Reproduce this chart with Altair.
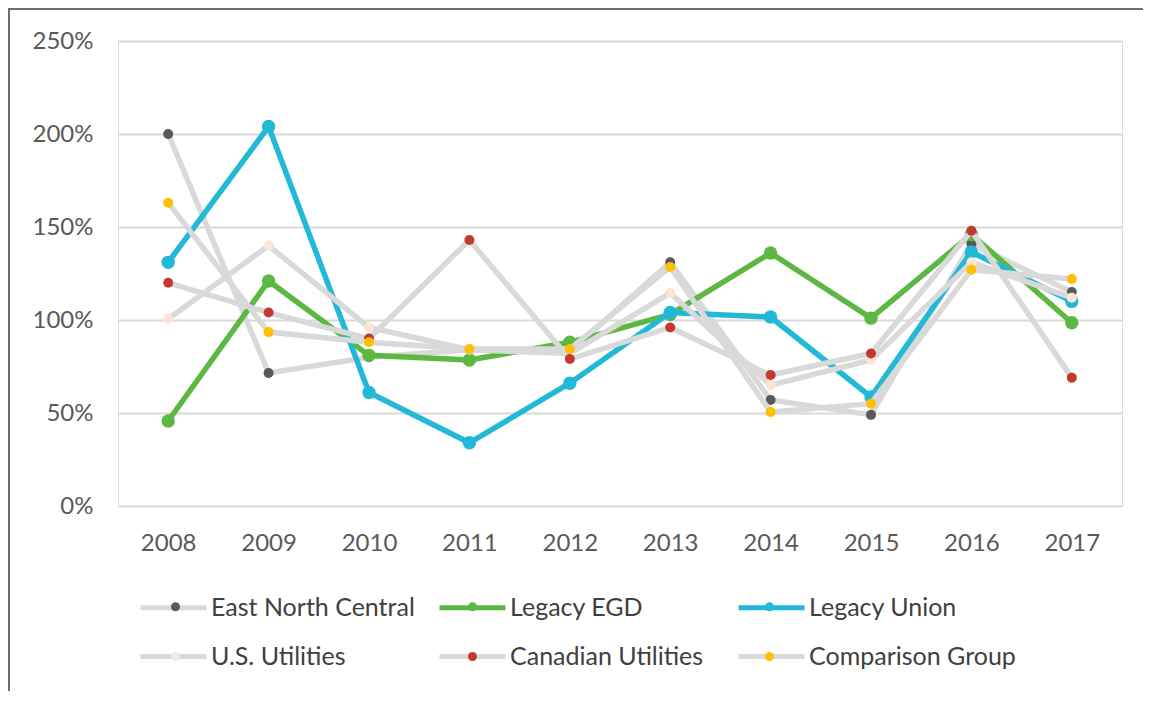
import altair as alt
import pandas as pd

years = ["2008", "2009", "2010", "2011", "2012", "2013", "2014", "2015", "2016", "2017"]
series = ["East North Central", "Legacy EGD", "Legacy Union",
          "U.S. Utilities", "Canadian Utilities", "Comparison Group"]

east_north_central = [2.00, 0.715, 0.80, 0.84, 0.83, 1.31, 0.57, 0.49, 1.41, 1.15]
legacy_egd = [0.457, 1.21, 0.81, 0.785, 0.88, 1.03, 1.36, 1.01, 1.46, 0.985]
legacy_union = [1.31, 2.04, 0.61, 0.34, 0.66, 1.04, 1.016, 0.586, 1.366, 1.10]
us_utilities = [1.005, 1.40, 0.96, 0.84, 0.82, 1.145, 0.65, 0.785, 1.31, 1.12]
canadian_utilities = [1.20, 1.04, 0.90, 1.43, 0.79, 0.96, 0.704, 0.82, 1.48, 0.69]
comparison_group = [1.63, 0.935, 0.88, 0.844, 0.844, 1.285, 0.505, 0.55, 1.27, 1.22]

values = [east_north_central, legacy_egd, legacy_union,
          us_utilities, canadian_utilities, comparison_group]

line_colors = ["#D9D9D9", "#5DB843", "#22B8D8", "#D9D9D9", "#D9D9D9", "#D9D9D9"]
marker_colors = ["#595959", "#5DB843", "#22B8D8", "#FCE4D6", "#C3392F", "#FFC000"]
marker_sizes = [100, 180, 180, 100, 100, 100]

# marker keys differ from the line keys so the two legends are not merged
marker_keys = [s + " " for s in series]

rows = []
for name, key, vals in zip(series, marker_keys, values):
    for yr, v in zip(years, vals):
        rows.append({"year": yr, "series": name, "marker": key, "value": v})
df = pd.DataFrame(rows)

FONT = "Lato"
LFS = 25

x_enc = alt.X("year:O", scale=alt.Scale(type="point", padding=0.5, domain=years),
              axis=alt.Axis(title=None, labelAngle=0, ticks=False, domain=False, grid=False,
                            labelFontSize=24, labelColor="#595959", labelFont=FONT,
                            labelPadding=25))
y_enc = alt.Y("value:Q", scale=alt.Scale(domain=[0, 2.5], nice=False),
              axis=alt.Axis(title=None, format=".0%", values=[0, 0.5, 1, 1.5, 2, 2.5],
                            ticks=False, domain=False, grid=True, gridColor="#D9D9D9",
                            gridWidth=2, labelFontSize=24, labelColor="#595959",
                            labelFont=FONT, labelPadding=25))

color_enc = alt.Color("series:N", scale=alt.Scale(domain=series, range=line_colors),
                      legend=alt.Legend(title=None, orient="none", legendX=20, legendY=531,
                                        direction="horizontal", columns=3, gridAlign="all",
                                        symbolType="stroke", symbolSize=4356,
                                        symbolStrokeWidth=5, labelOffset=2,
                                        labelFontSize=LFS, labelFont=FONT,
                                        labelColor="#404040", columnPadding=11,
                                        rowPadding=-12, labelLimit=400))
# marker overlay legend: symbols only, no label text
fill_enc = alt.Fill("marker:N", scale=alt.Scale(domain=marker_keys, range=marker_colors),
                    legend=alt.Legend(title=None, orient="none", legendX=20, legendY=553,
                                      direction="horizontal", columns=3, gridAlign="all",
                                      symbolType="circle", symbolSize=80,
                                      symbolStrokeWidth=0, symbolOffset=25,
                                      labelOffset=27, labelFontSize=LFS, labelFont=FONT,
                                      labelExpr="''", columnPadding=220,
                                      rowPadding=24, labelLimit=400))

layers = []
base = alt.Chart(df)
for i, name in enumerate(series):
    sub = base.transform_filter(alt.datum.series == name)
    layers.append(sub.mark_line(strokeWidth=5.5).encode(x=x_enc, y=y_enc, color=color_enc))
    layers.append(sub.mark_point(filled=True, size=marker_sizes[i], opacity=1,
                                 strokeWidth=0, shape="circle")
                  .encode(x=x_enc, y=y_enc, fill=fill_enc))

frame_top = alt.Chart(df).mark_rule(color="#6E6E6E", strokeWidth=2).encode(
    x=alt.value(-110), x2=alt.value(1030), y=alt.value(-32))
frame_left = alt.Chart(df).mark_rule(color="#6E6E6E", strokeWidth=2).encode(
    x=alt.value(-109), y=alt.value(-33), y2=alt.value(655))

chart = alt.layer(*layers, frame_top, frame_left).properties(
    width=1004, height=465,
    autosize=alt.AutoSizeParams(type="none"),
    padding={"left": 110, "top": 33, "right": 21, "bottom": 185},
).configure_view(stroke=None).configure(background="white")

chart.save("out.html", embed_options={"renderer": "svg", "actions": False})
